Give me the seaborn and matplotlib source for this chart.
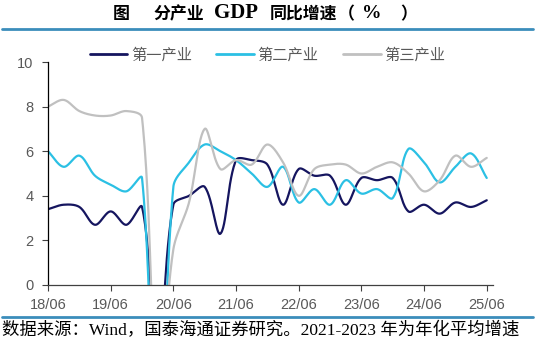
import numpy as np
import pandas as pd
import matplotlib
matplotlib.use("Agg")
import matplotlib.pyplot as plt
import seaborn as sns
from matplotlib.lines import Line2D

sns.set_theme(style="white")
plt.rcParams['font.family'] = ['Liberation Sans', 'Noto Sans CJK SC', 'DejaVu Sans']

# ---------------- data ----------------
quarters = ["18/06", "18/09", "18/12", "19/03", "19/06", "19/09", "19/12",
            "20/03", "20/06", "20/09", "20/12", "21/03", "21/06", "21/09", "21/12",
            "22/03", "22/06", "22/09", "22/12", "23/03", "23/06", "23/09", "23/12",
            "24/03", "24/06", "24/09", "24/12", "25/03", "25/06"]
primary = [3.4, 3.6, 3.5, 2.7, 3.3, 2.7, 3.5,
           -3.2, 3.6, 4.0, 4.4, 2.3, 5.6, 5.6, 5.4,
           3.6, 5.2, 4.9, 4.9, 3.6, 4.8, 4.7, 4.8,
           3.3, 3.6, 3.2, 3.7, 3.5, 3.8]
secondary = [6.0, 5.3, 5.8, 4.9, 4.5, 4.2, 4.8,
             -9.6, 4.4, 5.5, 6.3, 6.0, 5.6, 5.0, 4.4,
             5.3, 3.7, 4.3, 3.6, 4.7, 4.1, 4.3, 3.9,
             6.1, 5.5, 4.6, 5.3, 5.9, 4.8]
tertiary = [8.0, 8.3, 7.8, 7.6, 7.6, 7.8, 7.5,
            -5.2, 1.6, 3.7, 7.0, 5.2, 5.6, 5.4, 6.3,
            5.5, 4.0, 5.2, 5.4, 5.4, 5.0, 5.3, 5.5,
            5.0, 4.2, 4.7, 5.8, 5.3, 5.7]
series_names = ["第一产业", "第二产业", "第三产业"]
xtick_labels = ["18/06", "19/06", "20/06", "21/06", "22/06", "23/06", "24/06", "25/06"]
colors = ["#15155f", "#2bc0e4", "#c0c0c0"]

# screen scale (px per x-unit / y-unit) used only for the smoothing shape
SX, SY = 15.7, 22.3


def smooth(vals, n=30):
    """Excel-like smoothed curve (Bezier with chord-length scaled arms)."""
    y = np.asarray(vals, dtype=float)
    k = len(y)
    P = np.column_stack([np.arange(k) * SX, y * SY])
    ctrl_after = np.zeros_like(P)
    ctrl_before = np.zeros_like(P)
    for i in range(k):
        if i == 0:
            ctrl_after[i] = P[i] + (P[1] - P[0]) / 3.0
            continue
        if i == k - 1:
            ctrl_before[i] = P[i] - (P[i] - P[i - 1]) / 3.0
            continue
        T = P[i + 1] - P[i - 1]
        d1 = np.hypot(*(P[i] - P[i - 1]))
        d2 = np.hypot(*(P[i + 1] - P[i]))
        ctrl_before[i] = P[i] - T * d1 / (3.0 * (d1 + d2))
        ctrl_after[i] = P[i] + T * d2 / (3.0 * (d1 + d2))
    xs, ys = [], []
    for i in range(k - 1):
        t = np.linspace(0, 1, n, endpoint=(i == k - 2))[:, None]
        B = ((1 - t) ** 3 * P[i] + 3 * (1 - t) ** 2 * t * ctrl_after[i]
             + 3 * (1 - t) * t ** 2 * ctrl_before[i + 1] + t ** 3 * P[i + 1])
        xs.append(B[:, 0] / SX)
        ys.append(B[:, 1] / SY)
    return np.concatenate(xs), np.concatenate(ys)


frames = []
for name, vals in zip(series_names, [primary, secondary, tertiary]):
    sx, sy = smooth(vals)
    frames.append(pd.DataFrame({"x": sx, "y": sy, "series": name}))
df = pd.concat(frames, ignore_index=True)

# ---------------- figure ----------------
W, H = 535, 349
fig = plt.figure(figsize=(W / 100, H / 100), dpi=100)
ax = fig.add_axes([48 / W, 1 - 285 / H, (493 - 48) / W, (285 - 62) / H])

sns.lineplot(data=df, x="x", y="y", hue="series", palette=colors,
             hue_order=series_names, linewidth=1.6, ax=ax, legend=False,
             sort=False, estimator=None)

ax.set_ylim(0, 10)
ax.set_xlim(0, 28.4)
ax.set_yticks([0, 2, 4, 6, 8, 10])
ax.set_xticks(range(0, 29, 4))
ax.set_xticklabels(xtick_labels)
ax.set_xlabel("")
ax.set_ylabel("")
tick_color = "#595959"
ax.tick_params(axis="both", labelsize=10.5, labelcolor=tick_color,
               length=4, width=0.8, color="#404040", direction="out",
               bottom=True, left=True)
ax.tick_params(axis="x", pad=5.5)
ax.tick_params(axis="y", pad=6.5)
for s in ["top", "right"]:
    ax.spines[s].set_visible(False)
ax.spines["left"].set_color("#000000")
ax.spines["bottom"].set_color("#404040")
ax.spines["left"].set_linewidth(0.9)
ax.spines["bottom"].set_linewidth(0.9)

handles = [Line2D([0], [0], color=c, lw=2) for c in colors]
leg = ax.legend(handles, series_names, loc="center",
                bbox_to_anchor=(0.5, 1 - 55 / H), bbox_transform=fig.transFigure,
                ncol=3, frameon=False, handlelength=2.45,
                columnspacing=1.6, handletextpad=0.25,
                prop={'family': ['Noto Sans CJK SC'], 'size': 11})
for t in leg.get_texts():
    t.set_color(tick_color)

# title (pieces placed to match the reference spacing) and rules
ty = 1 - 14 / H
cjk_bold = dict(fontsize=12.2, fontweight="bold", family=['Noto Sans CJK SC'],
                va="center", ha="left", color="#000000")
ser_bold = dict(fontweight="bold", family=['Liberation Serif'],
                va="center", ha="left", color="#000000")
fig.text(113 / W, ty, "图", **cjk_bold)
fig.text(153 / W, ty, "分产业", **cjk_bold)
fig.text(214 / W, ty + 0.002, "GDP", fontsize=15, **ser_bold)
fig.text(270 / W, ty, "同比增速", **cjk_bold)
fig.text(338 / W, ty, "（", **cjk_bold)
fig.text(362 / W, ty + 0.002, "%", fontsize=14, **ser_bold)
fig.text(400 / W, ty, "）", **cjk_bold)

fig.add_artist(Line2D([2 / W, 533 / W], [1 - 29 / H, 1 - 29 / H], color="#3b8dbb", lw=2))
fig.add_artist(Line2D([2 / W, 533 / W], [1 - 317 / H, 1 - 317 / H], color="#3b8dbb", lw=2))
fig.text(2 / W, 1 - 331 / H, "数据来源：Wind，国泰海通证券研究。2021-2023 年为年化平均增速",
         ha="left", va="center", fontsize=12.5,
         family=['Liberation Serif', 'Noto Sans CJK SC'], color="#000000")

fig.savefig("out.png", dpi=100)
